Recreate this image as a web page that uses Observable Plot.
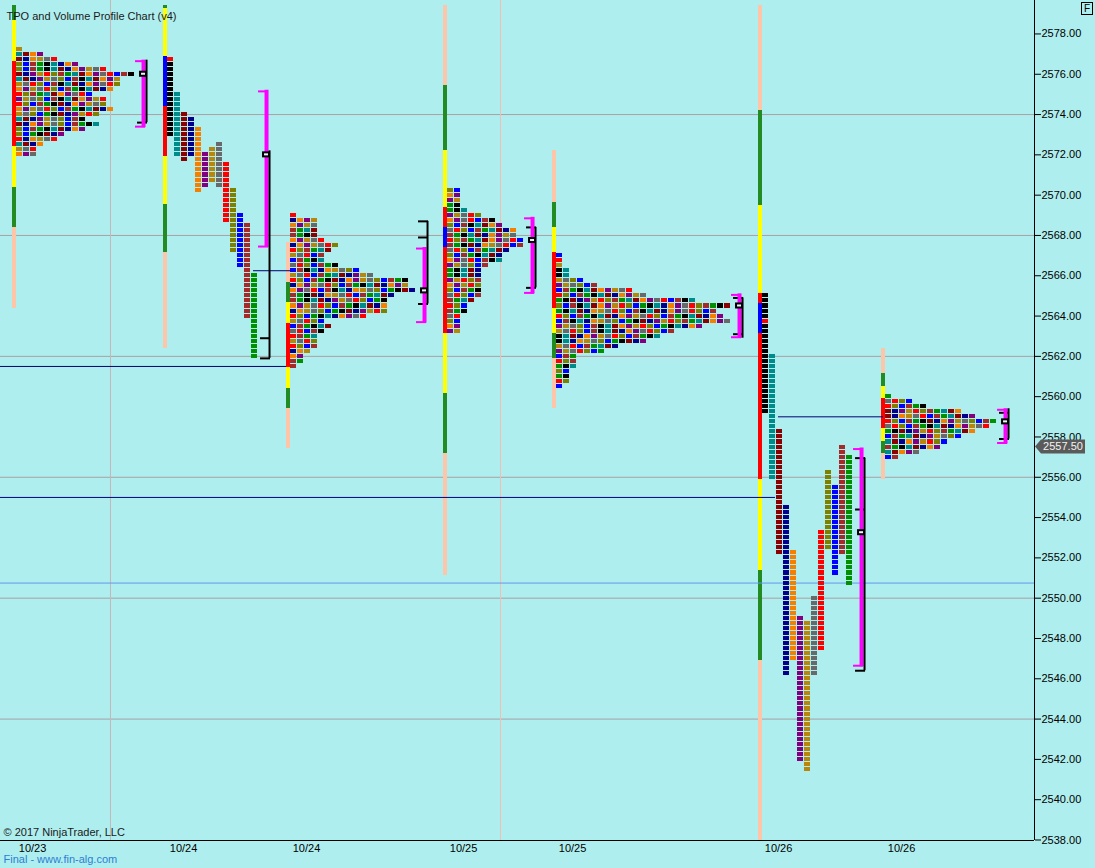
<!DOCTYPE html>
<html>
<head>
<meta charset="utf-8">
<script src="https://cdn.jsdelivr.net/npm/d3@7"></script>
<script src="https://cdn.jsdelivr.net/npm/@observablehq/plot@0.6"></script>
<style>
  html, body { margin: 0; padding: 0; background: #AFEEEE; }
  #wrap { position: relative; width: 1095px; height: 868px; overflow: hidden; font-family: "Liberation Sans", Arial, sans-serif; }
  #fbox { position: absolute; left: 1081px; top: 2px; width: 12px; height: 13px; border: 1px solid #000; box-sizing: border-box; font-size: 10px; line-height: 11px; text-align: center; color: #000; }
  svg { display: block; }
</style>
</head>
<body>
<div id="wrap"><div id="fbox">F</div></div>
<script>
// ---------------- DATA ----------------
const priceTicks = [2538,2540,2542,2544,2546,2548,2550,2552,2554,2556,2558,2560,2562,2564,2566,2568,2570,2572,2574,2576,2578];
const gridPrices = [2574, 2568, 2562, 2556, 2550, 2544];
const timeGridSlots = [15.71, 71.43];           // vertical time grid lines (slot units)
const visibleSlots = 147.71;                     // slots visible across the price panel
const priceDomain = [2537.975, 2579.66];

const sessionDates = ["10/23", "10/24", "10/24", "10/25", "10/25", "10/26", "10/26"];
const sessionStart = [2.29, 23.86, 41.43, 63.86, 79.43, 108.86, 126.43]; // slot of first TPO column

// session range bar: boundaries (top -> bottom) and phase codes per segment
const rangeBarEdges = [
  [2579.4, 2578.65, 2576.65, 2572.4, 2570.4, 2568.4, 2564.4],
  [2579.4, 2579.25, 2576.9, 2574.4, 2571.9, 2569.55, 2567.15, 2562.4],
  [2567.65, 2565.65, 2564.65, 2563.65, 2561.45, 2560.4, 2559.4, 2557.45],
  [2579.4, 2575.45, 2572.2, 2569.4, 2568.4, 2567.4, 2563.15, 2560.15, 2557.2, 2551.15],
  [2572.2, 2569.65, 2568.4, 2567.15, 2564.4, 2563.15, 2561.9, 2559.4],
  [2579.4, 2574.2, 2569.5, 2565.1, 2564.6, 2563.15, 2555.9, 2551.35, 2546.9, 2537.98],
  [2562.4, 2561.15, 2560.5, 2559.9, 2558.4, 2557.8, 2557.2, 2555.9]
];
const rangeBarPhases = ["GYRYGS", "GYBRYGS", "SGYRYGS", "SGYRBRYGS", "SGYRYGS", "SGYRBRYGS", "SGYRYGS"];

// collapsed TPO profiles: number of TPOs per price row, from the top price down
const collapsedSession = [0, 2, 3, 4, 6];
const collapsedTop = [2577.25, 2569.0, 2570.25, 2567.0, 2560.0];
const collapsedWidths = [
  [1,4,6,9,13,17,15,15,14,11,13,13,14,12,10,12,10,7,6,4,3,3],
  [1,4,4,4,4,5,7,6,5,5,7,10,12,17,17,18,15,14,14,14,11,5,6,5,4,4,4,3,2,2,1],
  [2,2,2,2,3,5,7,8,10,10,11,11,9,8,8,6,5,5,5,5,5,5,4,3,3,2,2,2,2],
  [1,1,1,2,2,4,6,11,13,20,25,23,24,25,21,17,15,13,9,7,3,3,3,2,2,2,1],
  [1,4,6,11,13,16,15,13,11,9,8,5,2]
];

// expanded (one column per period A..M) profiles: high and low of each period
const columnSession = [1, 5];
const columnTop = [
  [2576.75, 2575.0, 2574.0, 2573.75, 2573.25, 2572.0, 2572.25, 2572.5, 2571.5, 2570.25, 2569.0, 2568.5, 2566.0],
  [2565.0, 2562.0, 2558.25, 2554.5, 2552.25, 2549.0, 2548.75, 2550.0, 2553.25, 2556.25, 2555.5, 2557.5, 2557.0]
];
const columnBottom = [
  [2573.0, 2572.0, 2571.75, 2572.0, 2570.25, 2570.5, 2570.75, 2570.5, 2568.75, 2567.25, 2566.5, 2564.0, 2562.0],
  [2559.25, 2556.0, 2552.25, 2546.25, 2547.0, 2542.0, 2541.5, 2546.25, 2547.5, 2552.5, 2551.25, 2552.25, 2550.75]
];

const openPrice = [2572.75, 2576.75, 2563.0, 2567.75, 2566.75, 2563.75, 2558.75];
const vaHigh  = [2576.7, 2575.2, 2567.4, 2568.9, 2565.1, 2557.45, 2559.4];
const vaLow   = [2573.35, 2567.4, 2563.65, 2565.1, 2562.9, 2546.6, 2557.65];
const rngHigh = [2576.7, 2572.2, 2568.7, 2568.4, 2564.9, 2556.95, 2559.4];
const rngLow  = [2573.6, 2561.9, 2564.6, 2565.4, 2562.9, 2546.4, 2557.9];
const rngTicks = [[2573.6], [2561.9, 2562.9], [2568.7, 2567.9, 2564.6], [2568.4, 2565.4], [2564.9, 2563.1], [2556.95, 2554.4, 2546.4], [2559.2, 2557.9]];
const pocPrice = [2576.0, 2572.0, 2565.25, 2567.75, 2564.5, 2553.25, 2558.75];

// extended reference levels
const levelPrice = [2561.5, 2566.25, 2555.0, 2559.0, 2550.75];
const levelFrom  = [0, 36.14, 0, 111.14, 0];
const levelTo    = [40.86, 41.43, 110.71, 126.14, 147.71];

const lastPrice = 2557.5;

// ---------------- STYLE ----------------
const PX = 1 / 7; // one pixel expressed in slot units (a TPO column is 7 px)
const TICK = 0.25;
const periodOrder = "ABCDEFGHIJKLM";
const periodColor = {A:"#000000",B:"#008B8B",C:"#8B0000",D:"#00008B",E:"#F58000",F:"#800080",G:"#B8860B",H:"#696969",I:"#FF0000",J:"#808000",K:"#0000FF",L:"#A52A2A",M:"#009000"};
const phaseColor = {G:"#228B22", Y:"#FFFF00", R:"#FF0000", B:"#0000FF", S:"#FFC5A8"};
const levelColor = ["#000070", "#000070", "#000080", "#000070", "#6495ED"];

// ---------------- BUILD ----------------
const nSess = sessionStart.length;
const maxCols = new Array(nSess).fill(0);
const cells = [];
collapsedSession.forEach((s, k) => {
  const widths = collapsedWidths[k];
  maxCols[s] = d3.max(widths);
  widths.forEach((w, r) => {
    const price = collapsedTop[k] - r * TICK;
    const off = ((s + 1) * 131 + (r + 1) * 57 + r * r * 3) % 13;
    const stride = (r * 7 + s * 3) % 4;
    for (let c = 0; c < w; c++) {
      let color = periodColor[periodOrder[(off + c + Math.floor(c * stride / 6)) % 13]];
      if (c === 0 && Math.abs(price - openPrice[s]) < 1e-6) color = "#FF0000";
      cells.push({x: sessionStart[s] + c, price, color});
    }
  });
});
columnSession.forEach((s, k) => {
  const tops = columnTop[k], bots = columnBottom[k];
  maxCols[s] = tops.length;
  tops.forEach((t, j) => {
    const n = Math.round((t - bots[j]) / TICK);
    for (let i = 0; i <= n; i++) {
      const price = t - i * TICK;
      let color = periodColor[periodOrder[j]];
      if (j === 0 && Math.abs(price - openPrice[s]) < 1e-6) color = "#FF0000";
      cells.push({x: sessionStart[s] + j, price, color});
    }
  });
});

const barSegs = [];
rangeBarEdges.forEach((edges, s) => {
  for (let i = 0; i < edges.length - 1; i++)
    barSegs.push({x: sessionStart[s], top: edges[i], bottom: edges[i + 1], color: phaseColor[rangeBarPhases[s][i]]});
});

const sess = d3.range(nSess).map(s => ({
  s, xb: sessionStart[s] + maxCols[s] + 10 * PX,
  vaH: vaHigh[s], vaL: vaLow[s], rH: rngHigh[s], rL: rngLow[s], poc: pocPrice[s]
}));
const blackTicks = [];
sess.forEach(d => rngTicks[d.s].forEach(p => blackTicks.push({xb: d.xb, p})));
const levels = levelPrice.map((p, i) => ({p, x1: levelFrom[i], x2: levelTo[i], color: levelColor[i]}));

const chart = Plot.plot({
  width: 1095, height: 868,
  marginLeft: 0, marginTop: 0, marginRight: 61, marginBottom: 28,
  x: {domain: [0, visibleSlots], axis: null},
  y: {domain: priceDomain, axis: "right", ticks: priceTicks, tickFormat: d => d.toFixed(2), tickSize: 6, tickPadding: 1, label: null},
  color: {type: "identity"},
  style: {background: "#AFEEEE", fontFamily: "'Liberation Sans', Arial, sans-serif", fontSize: "11px", color: "#000", overflow: "visible"},
  marks: [
    Plot.ruleY(gridPrices, {stroke: "#A8A0A4"}),
    Plot.ruleX([timeGridSlots[0]], {stroke: "#C4B8B8"}),
    Plot.ruleX([timeGridSlots[1]], {stroke: "#F2BCB4"}),
    Plot.rect(barSegs, {x1: d => d.x - 4 * PX, x2: "x", y1: "bottom", y2: "top", fill: "color", shapeRendering: "crispEdges"}),
    Plot.ruleY(levels, {y: "p", x1: "x1", x2: "x2", stroke: "color", strokeWidth: 1}),
    Plot.rect(cells, {x1: "x", x2: d => d.x + 1, y1: d => d.price - TICK / 2, y2: d => d.price + TICK / 2,
      fill: "color", insetRight: 1, insetTop: 0.5, insetBottom: 0.5, shapeRendering: "crispEdges"}),
    Plot.ruleY(blackTicks, {y: "p", x1: d => d.xb - 8 * PX, x2: d => d.xb + 2 * PX, stroke: "black", strokeWidth: 2}),
    Plot.ruleX(sess, {x: "xb", y1: "vaL", y2: "vaH", stroke: "#FF00FF", strokeWidth: 4, dx: -2}),
    Plot.ruleY(sess, {y: "vaH", x1: d => d.xb - 10 * PX, x2: "xb", stroke: "#FF00FF", strokeWidth: 2, dy: 1}),
    Plot.ruleY(sess, {y: "vaL", x1: d => d.xb - 10 * PX, x2: "xb", stroke: "#FF00FF", strokeWidth: 2, dy: -1}),
    Plot.ruleX(sess, {x: "xb", y1: "rL", y2: "rH", stroke: "black", strokeWidth: 2, dx: 1}),
    Plot.rect(sess, {x1: d => d.xb - 5 * PX, x2: d => d.xb + 1 * PX, y1: d => d.poc - 0.1, y2: d => d.poc + 0.1,
      fill: "#EEF4FF", stroke: "black", strokeWidth: 2}),
    Plot.ruleX([visibleSlots], {stroke: "black"}),
    Plot.ruleY([priceDomain[0]], {stroke: "black"}),
    Plot.text(sessionDates, {x: (d, i) => sessionStart[i] + 16 * PX, text: d => d, frameAnchor: "bottom", dy: 11, textAnchor: "middle", fill: "#000"}),
    Plot.text(["TPO and Volume Profile Chart (v4)"], {text: d => d, frameAnchor: "top-left", dx: 6, dy: 12, textAnchor: "start", fill: "#1a1a1a"}),
    Plot.text(["© 2017 NinjaTrader, LLC"], {text: d => d, frameAnchor: "bottom-left", dx: 3, dy: -5, textAnchor: "start", fill: "#1a1a1a"}),
    Plot.text(["Final - www.fin-alg.com"], {text: d => d, frameAnchor: "bottom-left", dx: 3, dy: 22, textAnchor: "start", fill: "#2B7FD4"})
  ]
});

// last price marker on the price axis
const py = chart.scale("y").apply(lastPrice);
const ax = chart.scale("x").apply(visibleSlots);
const svg = d3.select(chart.tagName.toLowerCase() === "svg" ? chart : chart.querySelector("svg"));
svg.append("path")
  .attr("d", `M${ax + 1},${py} L${ax + 7},${py - 7} L${ax + 51},${py - 7} L${ax + 51},${py + 7} L${ax + 7},${py + 7} Z`)
  .attr("fill", "#5a5a5a");
svg.append("text").attr("x", ax + 29).attr("y", py).attr("dy", "0.35em").attr("text-anchor", "middle")
  .attr("fill", "#f2f2f2").attr("font-size", 11).attr("font-family", "'Liberation Sans', Arial, sans-serif")
  .text(lastPrice.toFixed(2));

document.getElementById("wrap").prepend(chart);
</script>
</body>
</html>
